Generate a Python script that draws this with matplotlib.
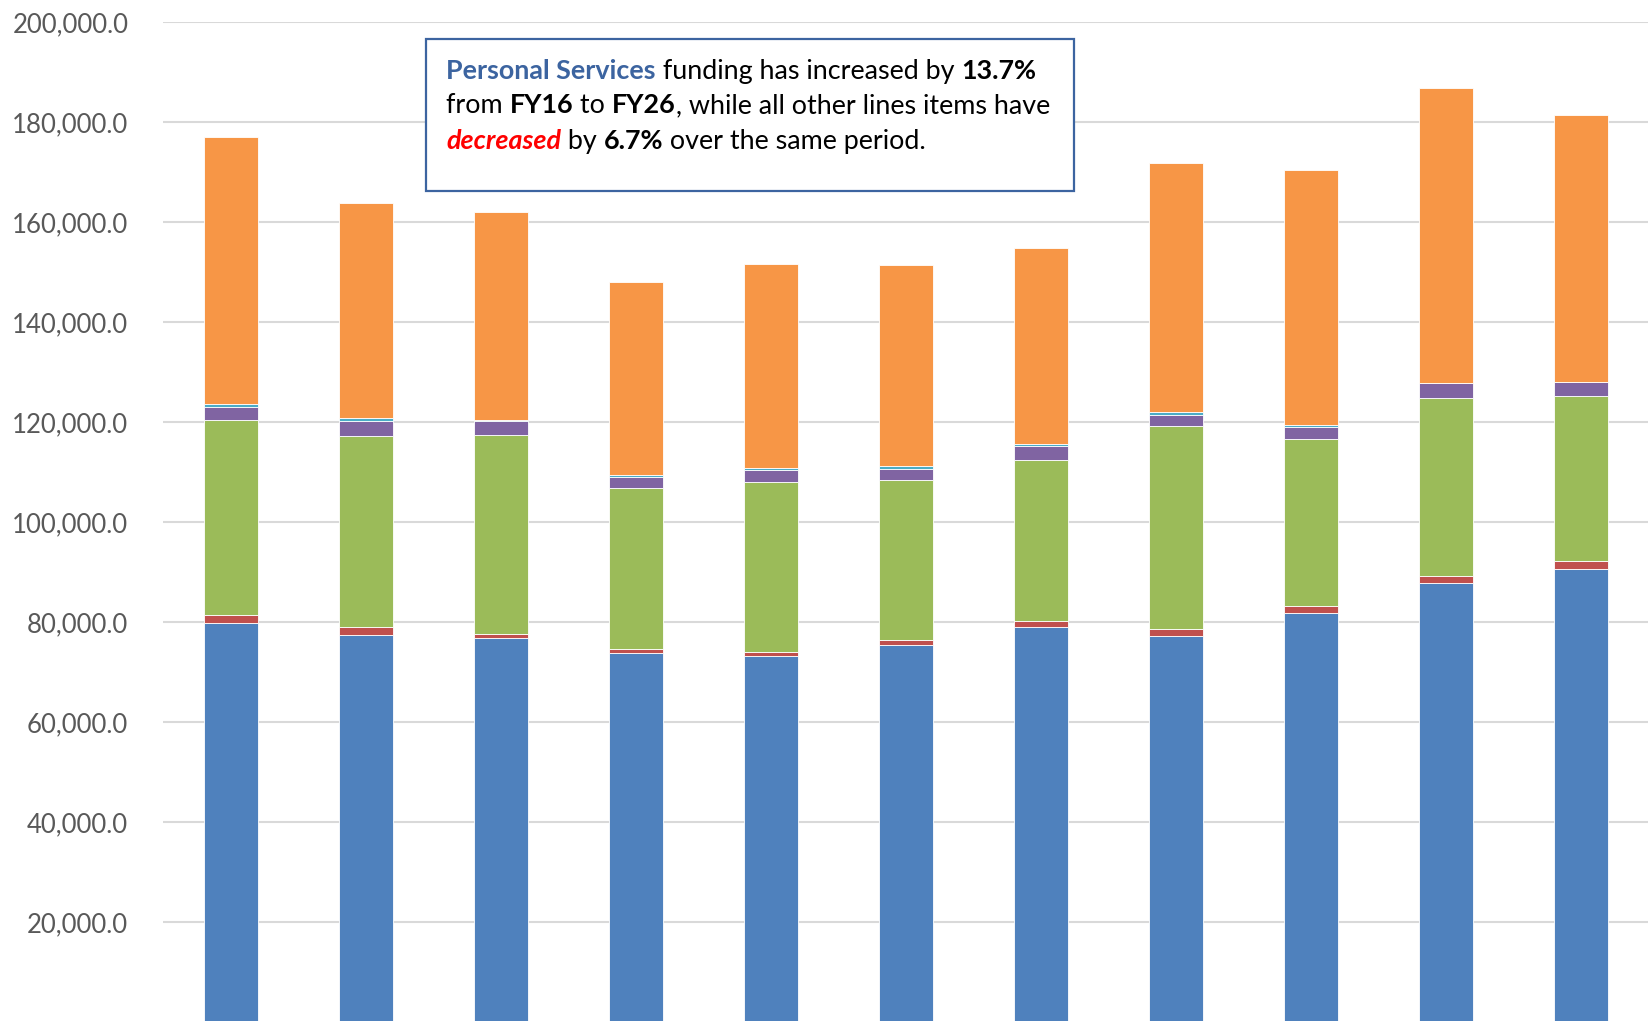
import matplotlib
matplotlib.use("Agg")
import matplotlib.pyplot as plt
from matplotlib.patches import Rectangle
from matplotlib.ticker import FuncFormatter
import numpy as np

# Funding by line item, FY16 - FY26
years = ["FY16", "FY17", "FY18", "FY19", "FY20", "FY21", "FY22", "FY23", "FY24", "FY25", "FY26"]
personal_services = [79800, 77400, 76800, 73860, 73320, 75460, 79120, 77320, 81860, 87800, 90660]
line_red = [1600, 1680, 920, 860, 800, 1000, 1200, 1400, 1460, 1520, 1660]
line_green = [39060, 38240, 39740, 32080, 34000, 32000, 32140, 40600, 33340, 35600, 33000]
line_purple = [2650, 3000, 2800, 2320, 2340, 2260, 2860, 2200, 2460, 2880, 2680]
line_teal = [540, 480, 200, 400, 400, 480, 400, 480, 340, 0, 0]
line_orange = [53350, 43120, 41660, 38600, 40800, 40320, 39200, 49920, 51000, 59000, 53400]

series = [personal_services, line_red, line_green, line_purple, line_teal, line_orange]
colors = ["#4F81BD", "#C0504D", "#9BBB59", "#8064A2", "#4BACC6", "#F79646"]

W, H = 1648, 1021
FONT = "Lato"

fig = plt.figure(figsize=(W / 100, H / 100), dpi=100)
ax = fig.add_axes([163 / W, -1.3 / H, (W - 163) / W, 1000 / H])

x = np.arange(len(years))
bottom = np.zeros(len(years))
for vals, col in zip(series, colors):
    ax.bar(x, vals, width=0.4, bottom=bottom, color=col,
           edgecolor="#FFFFFF", linewidth=0.6, zorder=2)
    bottom += np.array(vals)

ax.set_xlim(-0.5, len(years) - 0.5)
ax.set_ylim(0, 200000)
ax.set_yticks(np.arange(20000, 200001, 20000))
ax.yaxis.set_major_formatter(FuncFormatter(lambda v, p: f"{v:,.1f}"))
ax.set_xticks([])
ax.tick_params(axis="y", length=0, pad=25, labelsize=18.5, labelcolor="#595959")
for lab in ax.get_yticklabels():
    lab.set_family(FONT)
ax.grid(axis="y", color="#D9D9D9", linewidth=1.5, zorder=0)
ax.set_axisbelow(True)
for s in ax.spines.values():
    s.set_visible(False)

# callout box
bx0, by0, bx1, by1 = 426, 39, 1074, 191
fig.patches.append(Rectangle((bx0 / W, 1 - by1 / H), (bx1 - bx0) / W, (by1 - by0) / H,
                             transform=fig.transFigure, facecolor="white",
                             edgecolor="#3C64A0", linewidth=1.6, zorder=5))

renderer = fig.canvas.get_renderer()
FS = 19.4


def draw_line(xpix, ypix, parts):
    for s, kw in parts:
        t = fig.text(xpix / W, 1 - ypix / H, s, va="baseline", ha="left",
                     fontsize=FS, family=FONT, zorder=6, **kw)
        xpix += t.get_window_extent(renderer).width


B = {"fontweight": "bold"}
draw_line(446, 79, [("Personal Services", {"fontweight": "bold", "color": "#3C64A0"}),
                    (" funding has increased by ", {}),
                    ("13.7%", B)])
draw_line(446, 113, [("from ", {}), ("FY16", B), (" to ", {}), ("FY26", B),
                     (", while all other lines items have", {})])
draw_line(446, 149, [("decreased", {"fontweight": "bold", "style": "italic", "color": "#FF0000"}),
                     (" by ", {}), ("6.7%", B), (" over the same period.", {})])

fig.savefig("out.png", dpi=100)
